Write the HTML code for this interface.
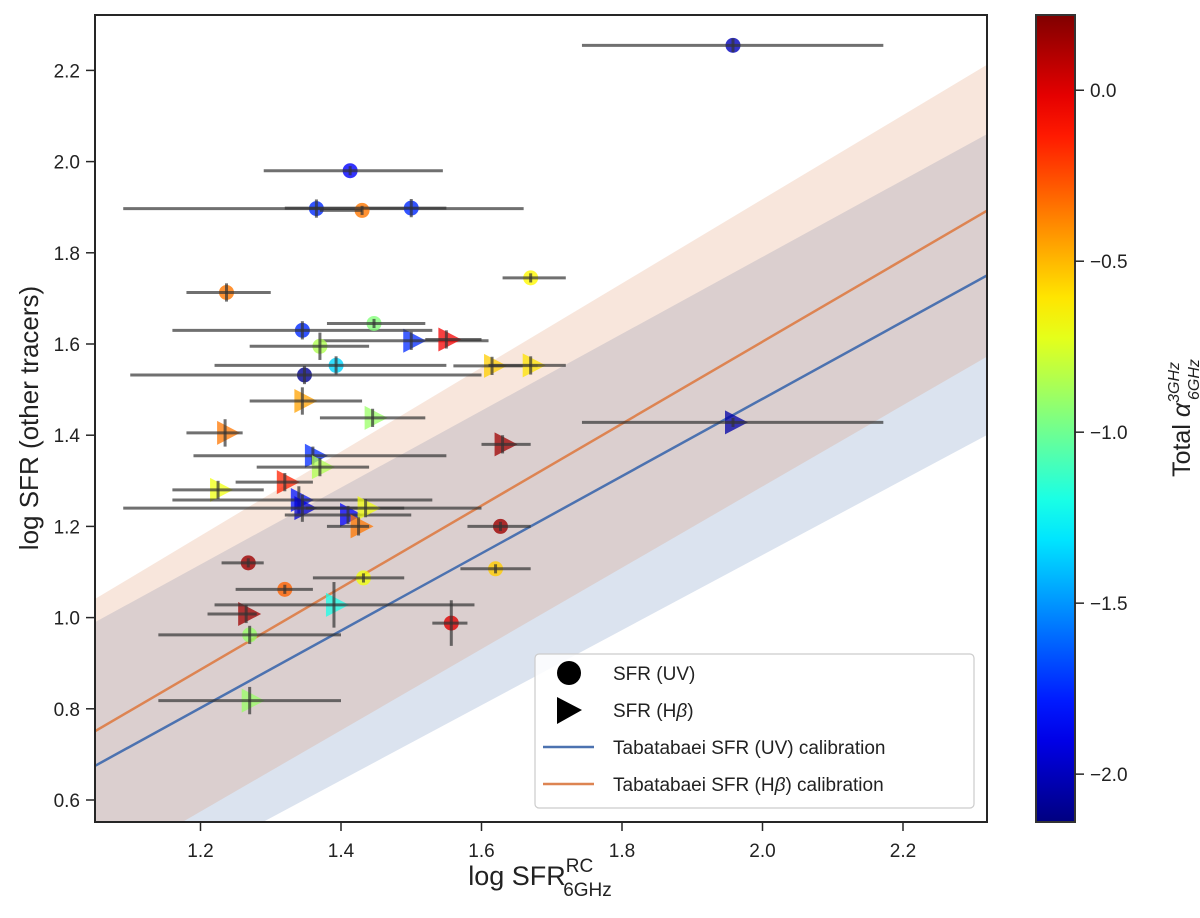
<!DOCTYPE html>
<html><head><meta charset="utf-8"><style>
body{margin:0;background:#fff;}
svg text{font-family:"Liberation Sans",sans-serif;fill:#222;}
</style></head><body>
<svg id="chart" width="1200" height="913" viewBox="0 0 1200 913" xmlns="http://www.w3.org/2000/svg">
<defs><linearGradient id="jetgrad" x1="0" y1="1" x2="0" y2="0"></linearGradient>
<clipPath id="plotclip"><rect x="95" y="15" width="892" height="807"/></clipPath></defs>
<g id="bands" clip-path="url(#plotclip)"></g>
<g id="lines" clip-path="url(#plotclip)"></g>
<g id="marks" clip-path="url(#plotclip)"></g>
<rect x="95" y="15" width="892" height="807" fill="none" stroke="#262626" stroke-width="2"/>
<g id="axes"></g>
<g>
<rect x="535" y="654" width="439" height="154" rx="4" fill="#fff" fill-opacity="0.85" stroke="#ccc" stroke-width="1.2"/>
<circle cx="569" cy="673" r="12" fill="#000"/>
<path d="M557,697 L582,710 L557,724 Z" fill="#000"/>
<line x1="543" y1="747" x2="594" y2="747" stroke="#4c72b0" stroke-width="2.5"/>
<line x1="543" y1="784" x2="594" y2="784" stroke="#dd8452" stroke-width="2.5"/>
<text x="613" y="680" font-size="19">SFR (UV)</text>
<text x="613" y="717" font-size="19">SFR (H<tspan font-style="italic">β</tspan>)</text>
<text x="613" y="754" font-size="19">Tabatabaei SFR (UV) calibration</text>
<text x="613" y="791" font-size="19">Tabatabaei SFR (H<tspan font-style="italic">β</tspan>) calibration</text>
</g>
<text x="540" y="885" font-size="27" text-anchor="middle">log SFR<tspan font-size="19" dy="-13">RC</tspan><tspan font-size="19" dx="-30" dy="24">6GHz</tspan></text>
<text transform="translate(38,418) rotate(-90)" font-size="26" text-anchor="middle">log SFR (other tracers)</text>
<rect x="1036" y="15" width="39" height="807" fill="url(#jetgrad)" stroke="#333" stroke-width="2"/>
<g id="cbaxis"></g>
<text transform="translate(1190,418) rotate(-90)" font-size="25" text-anchor="middle">Total <tspan font-style="italic">α</tspan><tspan font-size="16" font-style="italic" dy="-11">3GHz</tspan><tspan font-size="16" font-style="italic" dx="-38" dy="20">6GHz</tspan></text>
</svg>
<script>
const uvX=[1.958,1.413,1.365,1.43,1.50,1.67,1.237,1.345,1.447,1.37,1.393,1.348,1.627,1.62,1.268,1.432,1.32,1.557,1.27];
const uvY=[2.255,1.98,1.897,1.893,1.898,1.745,1.713,1.63,1.645,1.595,1.553,1.532,1.2,1.107,1.12,1.087,1.062,0.988,0.962];
const uvXlo=[1.743,1.29,1.09,1.37,1.32,1.63,1.18,1.16,1.38,1.27,1.22,1.1,1.58,1.57,1.23,1.36,1.25,1.53,1.14];
const uvXhi=[2.172,1.545,1.66,1.43,1.55,1.72,1.30,1.53,1.52,1.44,1.55,1.6,1.67,1.67,1.29,1.49,1.36,1.58,1.40];
const uvYerr=[0.015,0.01,0.02,0.01,0.02,0.01,0.02,0.02,0.01,0.03,0.02,0.02,0.01,0.01,0.01,0.01,0.01,0.05,0.02];
const uvAlpha=[-2.0,-1.85,-1.75,-0.35,-1.75,-0.65,-0.35,-1.75,-0.95,-0.85,-1.35,-2.1,0.15,-0.55,0.15,-0.7,-0.3,0.0,-0.9];
const hbX=[1.958,1.5,1.55,1.615,1.67,1.345,1.445,1.235,1.63,1.36,1.37,1.225,1.32,1.34,1.345,1.41,1.435,1.425,1.265,1.39,1.27];
const hbY=[1.428,1.607,1.61,1.552,1.553,1.475,1.438,1.405,1.38,1.355,1.33,1.28,1.297,1.258,1.24,1.225,1.24,1.2,1.008,1.028,0.818];
const hbXlo=[1.743,1.37,1.52,1.56,1.61,1.27,1.37,1.18,1.6,1.19,1.28,1.16,1.25,1.16,1.09,1.32,1.35,1.38,1.21,1.22,1.14];
const hbXhi=[2.172,1.61,1.6,1.68,1.72,1.43,1.52,1.26,1.67,1.55,1.44,1.29,1.36,1.53,1.6,1.5,1.49,1.44,1.28,1.59,1.4];
const hbYerr=[0.01,0.02,0.02,0.02,0.02,0.03,0.02,0.03,0.02,0.02,0.02,0.02,0.02,0.03,0.03,0.02,0.02,0.02,0.02,0.05,0.03];
const hbAlpha=[-2.05,-1.75,-0.05,-0.55,-0.6,-0.45,-0.9,-0.35,0.15,-1.75,-0.85,-0.7,-0.15,-1.8,-1.95,-1.85,-0.7,-0.35,0.15,-1.2,-0.9];
const xTicks=[1.2,1.4,1.6,1.8,2.0,2.2];
const yTicks=[0.6,0.8,1.0,1.2,1.4,1.6,1.8,2.0,2.2];
const cbTicks=[0.0,-0.5,-1.0,-1.5,-2.0];
const cbTickLabels=["0.0","\u22120.5","\u22121.0","\u22121.5","\u22122.0"];
// calibration: value at x=1.05, slope, band upper offset, band lower offset (left, right)
const calUV=[0.675,0.847,0.315,0.31,0.32,0.35];
const calHB=[0.751,0.899,0.29,0.32,0.31,0.32];

const NS="http://www.w3.org/2000/svg";
const X=v=>200.5+(v-1.2)*702.5;
const Y=v=>800-(v-0.6)*456;
const vmin=-2.14,vmax=0.22;
const CB=v=>822-(v-vmin)/(vmax-vmin)*807;
function jet(t){t=Math.max(0,Math.min(1,t));
 const c=x=>Math.round(255*Math.max(0,Math.min(1,x)));
 return `rgb(${c(1.5-Math.abs(4*t-3))},${c(1.5-Math.abs(4*t-2))},${c(1.5-Math.abs(4*t-1))})`;}
const col=a=>jet((a-vmin)/(vmax-vmin));
function mk(tag,attrs,parent){const e=document.createElementNS(NS,tag);for(const k in attrs)e.setAttribute(k,attrs[k]);parent.appendChild(e);return e;}

const grad=document.getElementById('jetgrad');
for(let i=0;i<=20;i++){mk('stop',{offset:(i/20),'stop-color':jet(i/20)},grad);}

const bands=document.getElementById('bands'),lines=document.getElementById('lines');
function cal(c,x){return c[0]+c[1]*(x-1.05);}
const x0=1.05,x1=2.321;
[[calUV,'#4c72b0','uv'],[calHB,'#dd8452','hbeta']].forEach(([c,color,n])=>{
 const p=mk('polygon',{points:`${X(x0)},${Y(cal(c,x0)+c[2])} ${X(x1)},${Y(cal(c,x1)+c[3])} ${X(x1)},${Y(cal(c,x1)-c[5])} ${X(x0)},${Y(cal(c,x0)-c[4])}`,fill:color,'fill-opacity':0.2},bands);
 
 
});
[[calUV,'#4c72b0','uv'],[calHB,'#dd8452','hbeta']].forEach(([c,color,n])=>{
 const l=mk('line',{x1:X(x0),y1:Y(cal(c,x0)),x2:X(x1),y2:Y(cal(c,x1)),stroke:color,'stroke-width':2.5},lines);
 
 
});

const marks=document.getElementById('marks');
function errbars(x,y,lo,hi,ye,n){
 const g=mk('g',{stroke:'#333','stroke-opacity':0.7,'stroke-width':3},marks);
 
 
 mk('line',{x1:X(lo),y1:Y(y),x2:X(hi),y2:Y(y)},g);
 mk('line',{x1:X(x),y1:Y(y-ye),x2:X(x),y2:Y(y+ye)},g);
}
hbX.forEach((x,i)=>{
 const cx=X(x),cy=Y(hbY[i]);
 const t=mk('path',{d:`M${cx-8},${cy-12} L${cx+15},${cy} L${cx-8},${cy+12} Z`,fill:col(hbAlpha[i]),'fill-opacity':0.75},marks);
 
 
 errbars(x,hbY[i],hbXlo[i],hbXhi[i],hbYerr[i],'hbeta');
});
uvX.forEach((x,i)=>{
 const c=mk('circle',{cx:X(x),cy:Y(uvY[i]),r:7.5,fill:col(uvAlpha[i]),'fill-opacity':0.8},marks);
 
 
 errbars(x,uvY[i],uvXlo[i],uvXhi[i],uvYerr[i],'uv');
});

const axes=document.getElementById('axes');
xTicks.forEach(v=>{
 const l=mk('line',{x1:X(v),y1:822,x2:X(v),y2:831,stroke:'#262626','stroke-width':1.5},axes);
 
 
 const t=mk('text',{x:X(v),y:857,'font-size':19,'text-anchor':'middle'},axes);
 t.textContent=v.toFixed(1);
 
 
});
yTicks.forEach(v=>{
 const l=mk('line',{x1:86,y1:Y(v),x2:95,y2:Y(v),stroke:'#262626','stroke-width':1.5},axes);
 
 
 const t=mk('text',{x:80,y:Y(v)+7,'font-size':19,'text-anchor':'end'},axes);
 t.textContent=v.toFixed(1);
 
 
});
const cba=document.getElementById('cbaxis');
cbTicks.forEach((v,i)=>{
 const l=mk('line',{x1:1075,y1:CB(v),x2:1084,y2:CB(v),stroke:'#262626','stroke-width':1.5},cba);
 
 
 const t=mk('text',{x:1090,y:CB(v)+7,'font-size':19},cba);
 t.textContent=cbTickLabels[i];
 
 
});
</script>
</body></html>
